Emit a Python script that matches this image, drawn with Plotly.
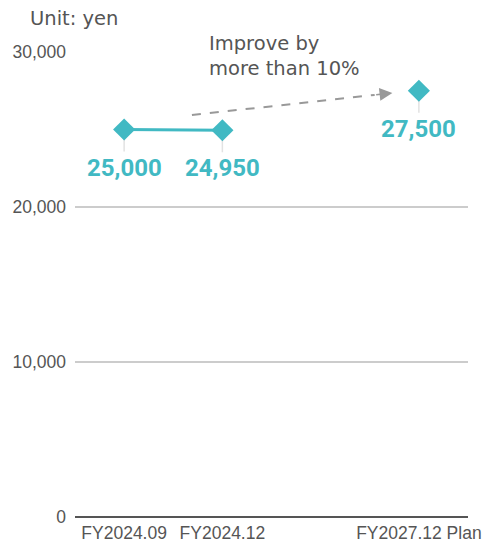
import plotly.graph_objects as go

# Average spend per customer (yen)
categories = ["FY2024.09", "FY2024.12", " ", "FY2027.12 Plan"]
actual_values = [25000, 24950, None, None]
plan_values = [None, None, None, 27500]
tick_values = [0, 10000, 20000, 30000]
tick_labels = ["0", "10,000", "20,000", "30,000"]

TEAL = "#41b9c3"
GRAY_TEXT = "#555555"

fig = go.Figure()

fig.add_trace(go.Scatter(
    x=categories, y=actual_values, mode="lines+markers",
    line=dict(color=TEAL, width=3),
    marker=dict(symbol="diamond", size=17, color=TEAL),
    hoverinfo="skip", showlegend=False,
))
fig.add_trace(go.Scatter(
    x=categories, y=plan_values, mode="markers",
    marker=dict(symbol="diamond", size=17, color=TEAL),
    hoverinfo="skip", showlegend=False,
))

# Leader lines and value labels below each point
point_values = [a if a is not None else p for a, p in zip(actual_values, plan_values)]
for cat, val in zip(categories, point_values):
    if val is None:
        continue
    fig.add_shape(
        type="line", xref="x", yref="y", x0=cat, x1=cat,
        ysizemode="pixel", yanchor=val, y0=-6, y1=-22,
        line=dict(color="#e2e2e2", width=1.5), layer="below",
    )
    fig.add_annotation(
        x=cat, y=val, xref="x", yref="y", text=f"{val:,}",
        showarrow=False, yshift=-38,
        font=dict(family="Roboto", size=24, color=TEAL, weight="bold"),
    )

# Dashed trend arrow towards the plan
fig.add_shape(
    type="line", xref="x", yref="y",
    x0=0.69, y0=25935, x1=2.55, y1=27230,
    line=dict(color="#999999", width=2, dash="dash"),
)
fig.add_annotation(
    x=2.73, y=27355, xref="x", yref="y",
    ax=2.55, ay=27230, axref="x", ayref="y",
    showarrow=True, arrowhead=2, arrowsize=1.6, arrowwidth=1.6,
    arrowcolor="#999999", text="",
)

fig.add_annotation(
    x=0.335, y=1.047, xref="paper", yref="paper", xanchor="left", yanchor="top",
    text="Improve by<br>more than 10%", showarrow=False, align="left",
    font=dict(family="DejaVu Sans", size=19.5, color=GRAY_TEXT),
)
fig.add_annotation(
    x=-0.12, y=1.073, xref="paper", yref="paper", xanchor="left", yanchor="middle",
    text="Unit: yen", showarrow=False,
    font=dict(family="DejaVu Sans", size=19.5, color=GRAY_TEXT),
)

fig.update_xaxes(
    type="category", categoryorder="array", categoryarray=categories,
    range=[-0.5, 3.5], showgrid=False, showline=False, ticks="",
    ticklabelstandoff=3,
    tickfont=dict(family="Liberation Sans", size=17.5, color=GRAY_TEXT),
    automargin=False, fixedrange=True,
)
fig.update_yaxes(
    range=[0, 30000], tickvals=tick_values, ticktext=tick_labels,
    showgrid=True, gridcolor="#cccccc", gridwidth=1.5,
    zeroline=True, zerolinecolor="#555555", zerolinewidth=1.5,
    showline=False, ticks="", ticklabelstandoff=8,
    tickfont=dict(family="Liberation Sans", size=17.5, color=GRAY_TEXT),
    automargin=False, fixedrange=True,
)

fig.update_layout(
    width=484, height=542,
    margin=dict(l=75, r=16, t=52, b=25),
    paper_bgcolor="white", plot_bgcolor="white",
)

fig.write_html("out.html")
